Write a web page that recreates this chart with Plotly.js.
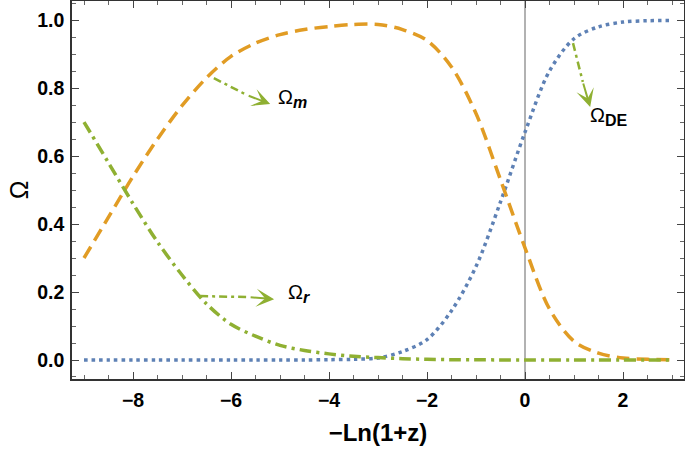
<!DOCTYPE html>
<html>
<head>
<meta charset="utf-8">
<script src="https://cdn.plot.ly/plotly-3.0.1.min.js"></script>
<style>
  html, body { margin: 0; padding: 0; background: #fff; }
  #chart { width: 685px; height: 453px; }
</style>
</head>
<body>
<div id="chart"></div>
<script>
// x = -Ln(1+z), sampled every 0.5
const xVals = [-9, -8.5, -8, -7.5, -7, -6.5, -6, -5.5, -5, -4.5, -4, -3.5, -3,
    -2.5, -2, -1.5, -1, -0.5, 0, 0.5, 1, 1.5, 2, 2.5, 3];

// density parameters
const omegaM = [0.30, 0.42, 0.54, 0.65, 0.748, 0.83, 0.893, 0.932, 0.957, 0.972, 0.981, 0.987, 0.987,
    0.972, 0.94, 0.862, 0.725, 0.53, 0.33, 0.15, 0.055, 0.02, 0.006, 0.002, 0.001];
const omegaR = [0.70, 0.58, 0.46, 0.347, 0.25, 0.165, 0.105, 0.07, 0.043, 0.028, 0.018, 0.011, 0.007,
    0.004, 0.002, 0.001, 0.0005, 0.0003, 0.0002, 0.0001, 0, 0, 0, 0, 0];
const omegaDE = [0, 0, 0, 0, 0, 0, 0, 0, 0, 0, 0.001, 0.002, 0.006,
    0.025, 0.06, 0.145, 0.275, 0.465, 0.67, 0.85, 0.945, 0.98, 0.994, 0.998, 0.999];

// labels and arrows: [tail x, tail y, head-base x, head-base y, tip x, tip y]
const arrowM = [-6.35, 0.829, -5.67, 0.779, -5.2, 0.753];
const arrowR = [-6.63, 0.188, -5.63, 0.185, -5.12, 0.179];
const arrowDE = [0.98, 0.932, 1.18, 0.818, 1.33, 0.744];
const labelText = [
    'Ω<sub><span style="font-size:16px"><b><i>m</i></b></span></sub>',
    'Ω<sub><span style="font-size:16px"><b><i>r</i></b></span></sub>',
    'Ω<sub><span style="font-size:16px"><b>DE</b></span></sub>'
];
const labelPos = [[-5.08, 0.77], [-4.88, 0.195], [1.29, 0.715]];

const BLUE = '#5E81B5';
const ORANGE = '#E19C24';
const GREEN = '#8FB032';
const FONT = 'Liberation Sans, Arial, sans-serif';

const traceDE = {
    x: xVals, y: omegaDE, mode: 'lines', hoverinfo: 'skip',
    line: { color: BLUE, width: 3.5, dash: '3.5px,4px', shape: 'spline', smoothing: 0.9 }
};
const traceM = {
    x: xVals, y: omegaM, mode: 'lines', hoverinfo: 'skip',
    line: { color: ORANGE, width: 3.5, dash: '13px,7px', shape: 'spline', smoothing: 0.9 }
};
const traceR = {
    x: xVals, y: omegaR, mode: 'lines', hoverinfo: 'skip',
    line: { color: GREEN, width: 3.5, dash: '12px,5px,3px,5px', shape: 'spline', smoothing: 0.9 }
};

// arrow shafts (dash-dot) from curve to arrow head
function shaft(a) {
    return {
        x: [a[0], a[2]], y: [a[1], a[3]], mode: 'lines', hoverinfo: 'skip',
        line: { color: GREEN, width: 2.5, dash: '8px,4px,3px,4px' }
    };
}

const annotations = [arrowM, arrowR, arrowDE].map(a => ({
    x: a[4], y: a[5], ax: a[2], ay: a[3], axref: 'x', ayref: 'y',
    text: '', showarrow: true, arrowhead: 3, arrowsize: 1.5, arrowwidth: 2,
    arrowcolor: GREEN, standoff: 0
}));
labelText.forEach((t, i) => {
    annotations.push({
        x: labelPos[i][0], y: labelPos[i][1], text: t, showarrow: false,
        xanchor: 'left', yanchor: 'middle',
        font: { family: FONT, size: 20, color: '#000' }
    });
});

const axisCommon = {
    showgrid: false, zeroline: false,
    showline: true, linecolor: '#333', linewidth: 1.5, mirror: 'ticks',
    ticks: 'inside', ticklen: 7, tickwidth: 1.2, tickcolor: '#444',
    tickfont: { family: FONT, size: 19.5, weight: 'bold', color: '#000' }
};

const layout = {
    width: 685, height: 453,
    margin: { l: 72, r: 1, t: 1, b: 74 },
    paper_bgcolor: '#fff', plot_bgcolor: '#fff',
    showlegend: false,
    font: { family: FONT },
    xaxis: Object.assign({}, axisCommon, {
        range: [-9.245, 3.245], tick0: 0, dtick: 2,
        minor: { dtick: 0.5, ticks: 'inside', ticklen: 4, tickcolor: '#666', tickwidth: 1 },
        ticklabelstandoff: 3,
        title: { text: '−Ln(1+z)', font: { family: FONT, size: 24, weight: 'bold', color: '#000' }, standoff: 14 }
    }),
    yaxis: Object.assign({}, axisCommon, {
        range: [-0.0559, 1.056], tick0: 0, dtick: 0.2, tickformat: '.1f',
        minor: { dtick: 0.05, ticks: 'inside', ticklen: 4, tickcolor: '#666', tickwidth: 1 },
        ticklabelstandoff: 2,
        title: { text: 'Ω', font: { family: FONT, size: 25, color: '#000' }, standoff: 1 }
    }),
    shapes: [{
        type: 'line', xref: 'x', yref: 'paper', x0: 0, x1: 0, y0: 0, y1: 1,
        line: { color: '#999', width: 1.5 }, layer: 'below'
    }],
    annotations: annotations
};

Plotly.newPlot('chart', [traceDE, traceM, traceR, shaft(arrowM), shaft(arrowR), shaft(arrowDE)],
    layout, { displayModeBar: false, responsive: false });
</script>
</body>
</html>
